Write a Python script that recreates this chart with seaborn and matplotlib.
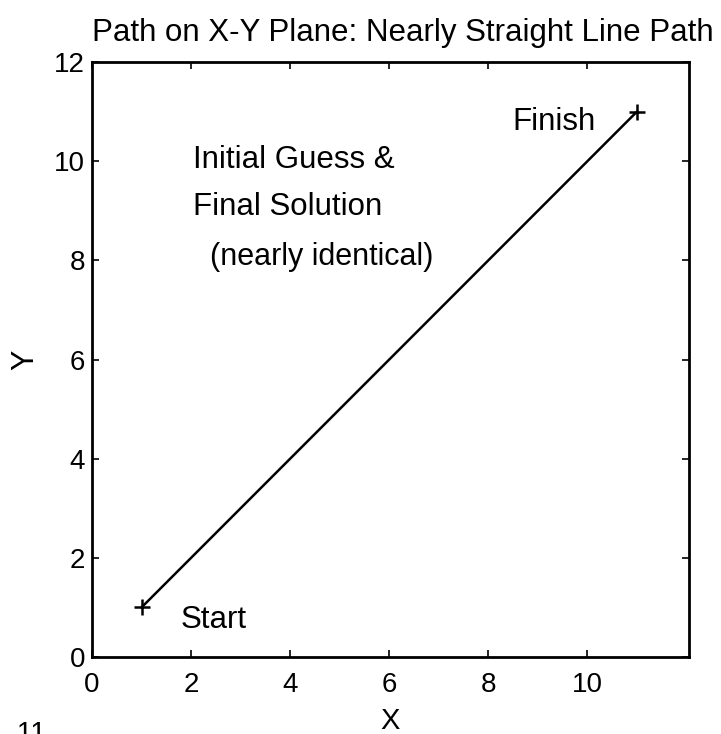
import pandas as pd
import seaborn as sns
import matplotlib.pyplot as plt

# path data (initial guess and final solution are nearly identical)
path_x = [1, 11]
path_y = [1, 11]
end_labels = ["Start", "Finish"]

x_ticks = [0, 2, 4, 6, 8, 10]
y_ticks = [0, 2, 4, 6, 8, 10, 12]

df = pd.DataFrame({"x": path_x, "y": path_y, "label": end_labels})

sns.set_theme(style="ticks")
plt.rcParams["font.family"] = ["Liberation Sans", "DejaVu Sans"]
plt.rcParams["text.color"] = "black"
plt.rcParams["axes.labelcolor"] = "black"

fig = plt.figure(figsize=(7.21, 7.34), dpi=100)
ax = fig.add_axes([0.1276, 0.1049, 0.8280, 0.8106])

sns.lineplot(data=df, x="x", y="y", color="black", linewidth=1.8, ax=ax,
             sort=False, estimator=None)
sns.scatterplot(data=df, x="x", y="y", marker="+", s=140, color="black",
                linewidth=1.8, ax=ax, zorder=3)

ax.set_xlim(0, 12.05)
ax.set_ylim(0, 12)
ax.set_xticks(x_ticks)
ax.set_yticks(y_ticks)
ax.tick_params(direction="in", length=5, width=1.2, top=True, right=True,
               labelsize=20, colors="black")
ax.tick_params(axis="x", pad=11)
ax.tick_params(axis="y", pad=5)
for s in ax.spines.values():
    s.set_visible(True)
    s.set_linewidth(2)
    s.set_color("black")

ax.set_xlabel("X", fontsize=21, labelpad=6)
ax.set_ylabel("Y", fontsize=22, labelpad=10)
ax.set_title("Path on X-Y Plane: Nearly Straight Line Path", fontsize=22.5,
             pad=15, x=0.52)

ax.text(8.48, 10.79, "Finish", fontsize=22.5, va="center", ha="left")
ax.text(1.78, 0.75, "Start", fontsize=22.5, va="center", ha="left")
ax.text(2.04, 10.02, "Initial Guess &", fontsize=22.5, va="center", ha="left")
ax.text(2.04, 9.07, "Final Solution", fontsize=22.5, va="center", ha="left")
ax.text(2.38, 8.06, "(nearly identical)", fontsize=22, va="center", ha="left")

fig.text(46 / 721, 1 - 721 / 734, "Fig. 11", fontsize=20, ha="right", va="top")

fig.savefig("out.png", dpi=100)
